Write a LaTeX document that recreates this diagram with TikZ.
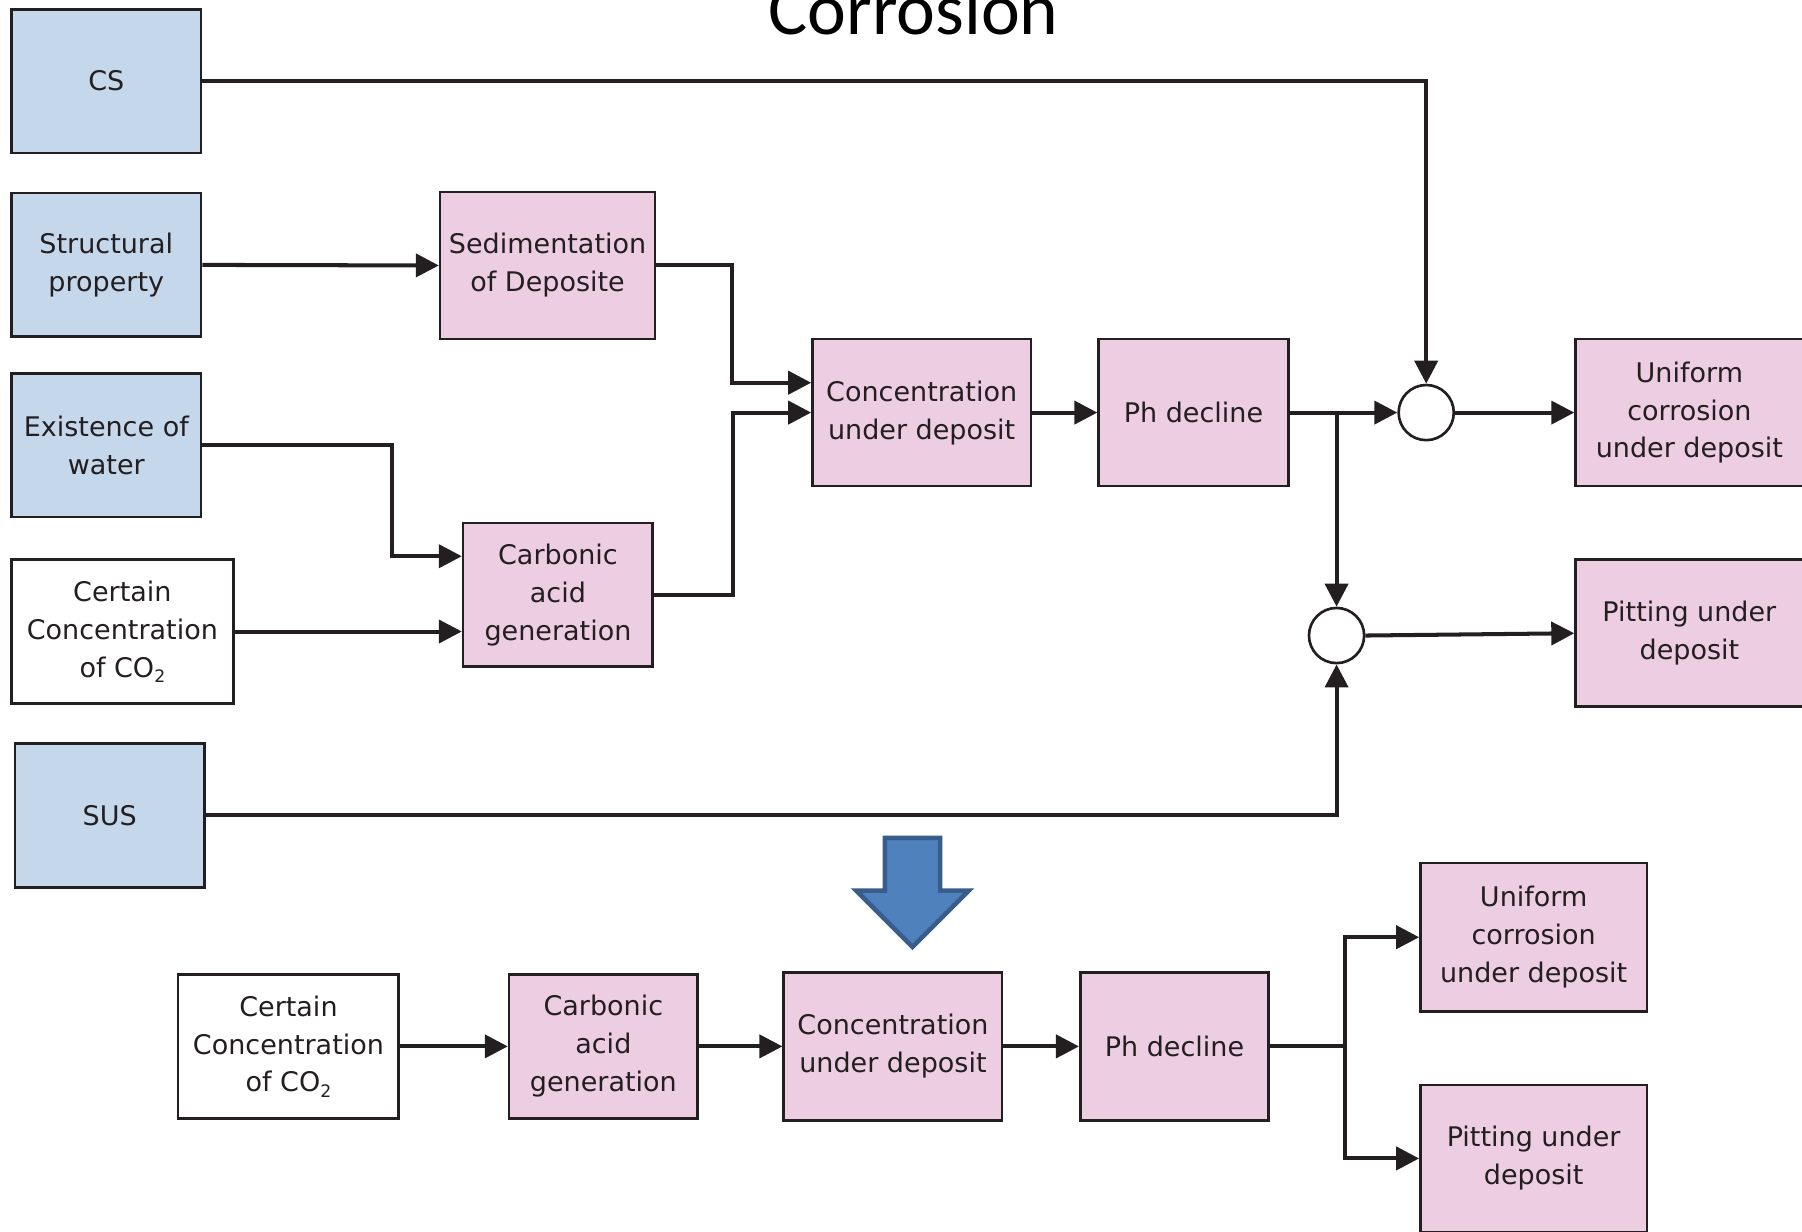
\documentclass[tikz,border=0pt]{standalone}
\usepackage{fontspec}
\setmainfont{DejaVu Sans}
\newfontfamily\titlefont{Carlito}
\usetikzlibrary{arrows.meta}

\definecolor{boxblue}{RGB}{197,215,235}
\definecolor{boxpink}{RGB}{237,205,226}
\definecolor{edgeink}{RGB}{35,31,32}
\definecolor{bigarrowfill}{RGB}{79,129,189}
\definecolor{bigarrowedge}{RGB}{56,93,138}

% small lowered index for chemical formulas
\newcommand\chemsub[1]{\raisebox{-0.35ex}{\fontsize{15}{15}\selectfont #1}}

\begin{document}
\begin{tikzpicture}[x=1pt,y=-1pt,
  box/.style={draw=edgeink,line width=2.3pt,align=center,inner sep=0pt,
    text=edgeink,font=\fontsize{23.5}{33}\selectfont},
  inbox/.style={box,fill=boxblue,minimum width=165pt,minimum height=125pt},
  outbox/.style={box,fill=boxpink},
  plainbox/.style={box,fill=white},
  link/.style={draw=edgeink,line width=3.5pt,-{Triangle[length=20pt,width=20pt]}},
  joint/.style={circle,draw=edgeink,line width=2.3pt,fill=white,minimum size=48pt,inner sep=0pt}
]
\useasboundingbox (0,0) rectangle (1568,1072);

% title
\node[font=\titlefont\fontsize{64}{64}\selectfont,anchor=base] (title) at (795,30) {Corrosion};

% ---- upper scheme ----
\node[inbox] (cs)  at (92.5,70.5)  {CS};
\node[inbox] (sp)  at (92.5,230.5) {Structural\\property};
\node[inbox] (ew)  at (92.5,387.5) {Existence of\\water};
\node[plainbox,minimum width=193pt,minimum height=125pt] (co2) at (106.5,549.5) {Certain\\Concentration\\of CO\chemsub{2}};
\node[inbox] (sus) at (95.5,709.5) {SUS};

\node[outbox,minimum width=187pt,minimum height=128pt] (sed)  at (476.5,231)  {Sedimentation\\of Deposite};
\node[outbox,minimum width=165pt,minimum height=125pt] (carb) at (485.5,517.5) {Carbonic\\acid\\generation};
\node[outbox,minimum width=190pt,minimum height=128pt] (conc) at (802,359)    {Concentration\\under deposit};
\node[outbox,minimum width=165pt,minimum height=128pt] (ph)   at (1038.5,359) {Ph decline};

\node[joint] (j1) at (1241,359) {};
\node[joint] (j2) at (1163,553) {};

\node[outbox,minimum width=198pt,minimum height=128pt] (uni) at (1470,359) {Uniform\\corrosion\\under deposit};
\node[outbox,minimum width=198pt,minimum height=128pt] (pit) at (1470,551) {Pitting under\\deposit};

\draw[link] (cs.east) -| (j1.north);
\draw[link] (sp.east) -- (sed.west);
\draw[link] (sed.east) -- ++(66,0) |- ([yshift=26pt]conc.west);
\draw[link] (ew.east) -- ++(165,0) |- ([yshift=33.5pt]carb.west);
\draw[link] (co2.east) -- (co2.east -| carb.west);
\draw[link] (carb.east) -- ++(69,0) |- (conc.west);
\draw[link] (conc.east) -- (ph.west);
\draw[link] (ph.east) -- (j1.west);
\draw[link] (ph.east -| j2.north) -- (j2.north);
\draw[link] (j1.east) -- (uni.west);
\draw[link] (j2.east) -- (pit.west);
\draw[link] (sus.east) -| (j2.south);

% ---- transition arrow ----
\draw[draw=bigarrowedge,fill=bigarrowfill,line width=4pt,line join=miter]
  (770,729) -- (818,729) -- (818,775) -- (843,775) -- (794,824) -- (745,775) -- (770,775) -- cycle;

% ---- simplified scheme ----
\node[plainbox,minimum width=192pt,minimum height=125pt] (bco2)  at (251,910.5)  {Certain\\Concentration\\of CO\chemsub{2}};
\node[outbox,minimum width=164pt,minimum height=125pt]   (bcarb) at (525,910.5)  {Carbonic\\acid\\generation};
\node[outbox,minimum width=190pt,minimum height=129pt]   (bconc) at (777,910.5)  {Concentration\\under deposit};
\node[outbox,minimum width=164pt,minimum height=129pt]   (bph)   at (1022,910.5) {Ph decline};
\node[outbox,minimum width=197pt,minimum height=129pt]   (buni)  at (1334.5,815.5) {Uniform\\corrosion\\under deposit};
\node[outbox,minimum width=197pt,minimum height=128pt]   (bpit)  at (1334.5,1008) {Pitting under\\deposit};

\draw[link] (bco2.east) -- (bcarb.west);
\draw[link] (bcarb.east) -- (bconc.west);
\draw[link] (bconc.east) -- (bph.west);
\draw[link] (bph.east) -- ++(65,0) |- (buni.west);
\draw[link] ([xshift=65pt]bph.east) |- (bpit.west);

\end{tikzpicture}
\end{document}
